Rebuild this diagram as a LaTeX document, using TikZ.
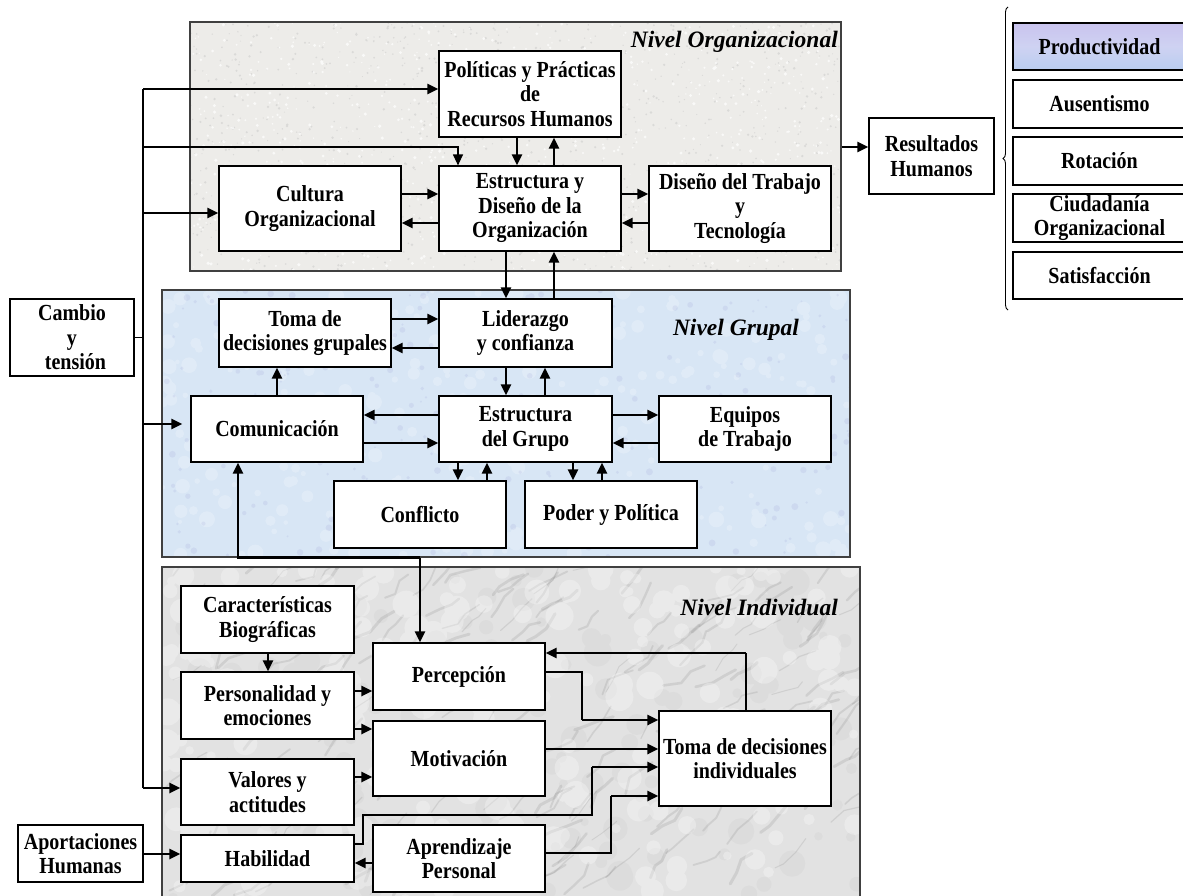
\documentclass[tikz,border=0pt]{standalone}
\usepackage{fontspec}
\setmainfont{Liberation Serif}[FakeStretch=0.87]
\newfontfamily\lvlfont{Liberation Serif}
\usetikzlibrary{arrows.meta,decorations.pathreplacing,calc}

\definecolor{orgbg}{HTML}{EDECE9}
\definecolor{grpbg}{HTML}{D8E6F5}
\definecolor{indbg}{HTML}{E2E2E2}
\definecolor{prodA}{HTML}{C9C3EE}
\definecolor{prodB}{HTML}{B9CDF0}

\begin{document}
\begin{tikzpicture}[x=1pt,y=-1pt,
  box/.style={draw=black, line width=1.2pt, fill=white, align=center, inner sep=1pt,
              font=\bfseries\fontsize{23}{24.5}\selectfont},
  panel/.style={draw=black!75, line width=1.4pt, inner sep=0pt},
  lvl/.style={font=\lvlfont\bfseries\itshape\fontsize{23.5}{26}\selectfont, inner sep=0pt},
  fl/.style={line width=2.6pt, -{Triangle[length=11pt,width=10pt]}},
  tl/.style={line width=1.2pt},
  tla/.style={line width=1.2pt, -{Triangle[length=11pt,width=10pt]}},
]
\useasboundingbox (0,0) rectangle (1183,895);
\pgfmathsetseed{4242}

% ---------- level backgrounds with texture ----------
\fill[orgbg] (190,22) rectangle (841,271);
\begin{scope}
  \clip (190,22) rectangle (841,271);
  \fill[black!25, opacity=.4] \foreach \i in {1,...,1100}{ ({190+651*rnd},{22+249*rnd}) circle ({0.5+0.9*rnd}) };
  \fill[white, opacity=.7] \foreach \i in {1,...,900}{ ({190+651*rnd},{22+249*rnd}) circle ({0.6+1.2*rnd}) };
\end{scope}

\fill[grpbg] (162,290) rectangle (850,557);
\begin{scope}
  \clip (162,290) rectangle (850,557);
  \fill[white, opacity=.22] \foreach \i in {1,...,320}{ ({162+688*rnd},{290+267*rnd}) circle ({2+6*rnd}) };
  \fill[blue!40!gray, opacity=.08] \foreach \i in {1,...,300}{ ({162+688*rnd},{290+267*rnd}) circle ({1+2.5*rnd}) };
\end{scope}

\fill[indbg] (162,567) rectangle (860,900);
\begin{scope}
  \clip (162,567) rectangle (860,900);
  \fill[black!40, opacity=.08] \foreach \i in {1,...,160}{ ({162+698*rnd},{567+333*rnd}) circle ({4+10*rnd}) };
  \foreach \i in {1,...,200}{
    \pgfmathsetmacro\lw{0.8+2.2*rnd}
    \draw[black!60, opacity=.15, line width=\lw pt, line cap=round, line join=round]
      ({162+698*rnd},{567+333*rnd}) -- ++({-20-40*rnd}:{6+14*rnd}) -- ++({-20-40*rnd}:{6+14*rnd})
      -- ++({-20-40*rnd}:{6+14*rnd});
  }
  \fill[white, opacity=.3] \foreach \i in {1,...,220}{ ({162+698*rnd},{567+333*rnd}) circle ({4+10*rnd}) };
\end{scope}

% ---------- level frames ----------
\node[panel, minimum width=651pt, minimum height=249pt] (org) at (515.5,146.5) {};
\node[panel, minimum width=688pt, minimum height=267pt] (grp) at (506,423.5) {};
\node[panel, minimum width=698pt, minimum height=333pt] (ind) at (511,733.5) {};

\node[lvl, anchor=base east] (lorg) at (838,47) {Nivel Organizacional};
\node[lvl] (lgrp) at (736,330) {Nivel Grupal};
\node[lvl, anchor=base east] (lind) at (838,615) {Nivel Individual};

% ---------- organisational level ----------
\node[box, minimum width=182pt, minimum height=86pt] (pol) at (530,94) {Políticas y Prácticas\\de\\Recursos Humanos};
\node[box, minimum width=182pt, minimum height=85pt] (est) at (530,208.5) {Estructura y\\Diseño de la\\Organización};
\node[box, minimum width=182pt, minimum height=85pt] (cul) at (310,208.5) {Cultura\\Organizacional};
\node[box, minimum width=182pt, minimum height=85pt] (dis) at (740,208.5) {Diseño del Trabajo\\y\\Tecnología};

% ---------- outcomes ----------
\node[box, minimum width=125pt, minimum height=76pt] (res) at (931.5,156) {Resultados\\Humanos};
\node[box, minimum width=173pt, minimum height=47pt, top color=prodA, bottom color=prodB, middle color=prodA!60!prodB!80!white] (prod) at (1099.5,46.5) {Productividad};
\node[box, minimum width=173pt, minimum height=48pt] (aus) at (1099.5,104) {Ausentismo};
\node[box, minimum width=173pt, minimum height=48pt] (rot) at (1099.5,161) {Rotación};
\node[box, minimum width=173pt, minimum height=48pt, inner sep=0pt, font=\bfseries\fontsize{23}{23.5}\selectfont] (ciu) at (1099.5,218) {Ciudadanía\\Organizacional};
\node[box, minimum width=173pt, minimum height=47pt] (sat) at (1099.5,275.5) {Satisfacción};
\draw[decorate, decoration={brace, amplitude=5pt}, line width=0.9pt] (1008,310) -- (1008,7);

% ---------- group level ----------
\node[box, minimum width=172pt, minimum height=68pt] (tg) at (305,333) {Toma de\\decisiones grupales};
\node[box, minimum width=173pt, minimum height=68pt] (lid) at (525.5,333) {Liderazgo\\y confianza};
\node[box, minimum width=172pt, minimum height=66pt] (com) at (277,429) {Comunicación};
\node[box, minimum width=173pt, minimum height=66pt] (eg) at (525.5,429) {Estructura\\del Grupo};
\node[box, minimum width=172pt, minimum height=66pt] (eq) at (745,429) {Equipos\\de Trabajo};
\node[box, minimum width=172pt, minimum height=67pt] (con) at (420,514.5) {Conflicto};
\node[box, minimum width=172pt, minimum height=67pt] (pod) at (611,514.5) {Poder y Política};

% ---------- individual level ----------
\node[box, minimum width=173pt, minimum height=67pt] (car) at (267.5,619.5) {Características\\Biográficas};
\node[box, minimum width=173pt, minimum height=67pt] (pers) at (267.5,705.5) {Personalidad y\\emociones};
\node[box, minimum width=173pt, minimum height=66pt] (val) at (267.5,792) {Valores y\\actitudes};
\node[box, minimum width=173pt, minimum height=47pt] (hab) at (267.5,858.5) {Habilidad};
\node[box, minimum width=172pt, minimum height=67pt] (per) at (459,676.5) {Percepción};
\node[box, minimum width=172pt, minimum height=75pt] (mot) at (459,758.5) {Motivación};
\node[box, minimum width=172pt, minimum height=67pt] (apr) at (459,858.5) {Aprendizaje\\Personal};
\node[box, minimum width=172pt, minimum height=95pt] (tdi) at (745,758.5) {Toma de decisiones\\individuales};

% ---------- external inputs ----------
\node[box, minimum width=124pt, minimum height=77pt] (cam) at (72,337.5) {Cambio\\y\\\hspace*{7pt}tensión};
\node[box, minimum width=125pt, minimum height=57pt] (apo) at (80.5,853.5) {Aportaciones\\Humanas};

% ---------- trunk from change and tension ----------
\coordinate (t1) at (143,89);
\coordinate (t2) at (143,147);
\coordinate (t3) at (143,213);
\coordinate (t4) at (143,424);
\coordinate (t5) at (143,788);
\draw[tl] (t1) -- (t5);
\draw[fl] (t1) -- (t1 -| pol.west);
\draw[tla] (t2) -| (458,0 |- est.north);
\draw[fl] (t3) -- (t3 -| cul.west);
\draw[tl] (cam.east) -- (cam.east -| t1);
\draw[fl, shorten >=8pt] (t4) -- (t4 -| com.west);
\draw[fl] (t5) -- (t5 -| val.west);
\draw[fl] (apo.east |- 0,854) -- (hab.west |- 0,854);

% ---------- organisational links ----------
\draw[fl] (517,0 |- pol.south) -- (517,0 |- est.north);
\draw[fl] (554,0 |- est.north) -- (554,0 |- pol.south);
\draw[fl] (cul.east |- 0,194) -- (est.west |- 0,194);
\draw[fl] (est.west |- 0,223) -- (cul.east |- 0,223);
\draw[fl] (est.east |- 0,194) -- (dis.west |- 0,194);
\draw[fl] (dis.west |- 0,223) -- (est.east |- 0,223);
\draw[fl] (506,0 |- est.south) -- (506,0 |- lid.north);
\draw[fl] (554,0 |- lid.north) -- (554,0 |- est.south);
\draw[fl] (org.east |- 0,147) -- (res.west |- 0,147);

% ---------- group links ----------
\draw[fl] (tg.east |- 0,319) -- (lid.west |- 0,319);
\draw[fl] (lid.west |- 0,348) -- (tg.east |- 0,348);
\draw[fl] (506,0 |- lid.south) -- (506,0 |- eg.north);
\draw[fl] (545,0 |- eg.north) -- (545,0 |- lid.south);
\draw[fl] (eg.west |- 0,415) -- (com.east |- 0,415);
\draw[fl] (com.east |- 0,443) -- (eg.west |- 0,443);
\draw[fl] (eg.east |- 0,415) -- (eq.west |- 0,415);
\draw[fl] (eq.west |- 0,443) -- (eg.east |- 0,443);
\draw[fl] (277,0 |- com.north) -- (277,0 |- tg.south);
\draw[fl] (458,0 |- eg.south) -- (458,0 |- con.north);
\draw[fl] (487,0 |- con.north) -- (487,0 |- eg.south);
\draw[fl] (573,0 |- eg.south) -- (573,0 |- pod.north);
\draw[fl] (602,0 |- pod.north) -- (602,0 |- eg.south);

% ---------- between group and individual levels ----------
\coordinate (jn) at (420,0 |- grp.south);
\draw[fl] (jn) -- (jn |- per.north);
\draw[fl] (jn) -| (238,0 |- com.south);

% ---------- individual links ----------
\draw[fl] (268,0 |- car.south) -- (268,0 |- pers.north);
\draw[fl] (pers.east |- 0,691) -- (per.west |- 0,691);
\draw[fl] (pers.east |- 0,729) -- (mot.west |- 0,729);
\draw[fl] (val.east |- 0,777) -- (mot.west |- 0,777);
\draw[fl] (apr.west |- 0,863) -- (hab.east |- 0,863);

\coordinate (b1) at (582,720);
\draw[tl] (per.east |- 0,672) -| (b1);
\draw[fl] (b1) -- (b1 -| tdi.west);
\draw[fl] (mot.east |- 0,749) -- (tdi.west |- 0,749);
\coordinate (b2) at (363,815);
\coordinate (b3) at (592,767);
\draw[tl] (hab.east |- 0,844) -| (b2) -| (b3);
\draw[fl] (b3) -- (b3 -| tdi.west);
\coordinate (b4) at (611,796);
\draw[tl] (apr.east |- 0,853) -| (b4);
\draw[fl] (b4) -- (b4 -| tdi.west);
\coordinate (b5) at (746,653);
\draw[tl] (746,0 |- tdi.north) -- (b5);
\draw[fl] (b5) -- (b5 -| per.east);
\end{tikzpicture}
\end{document}
